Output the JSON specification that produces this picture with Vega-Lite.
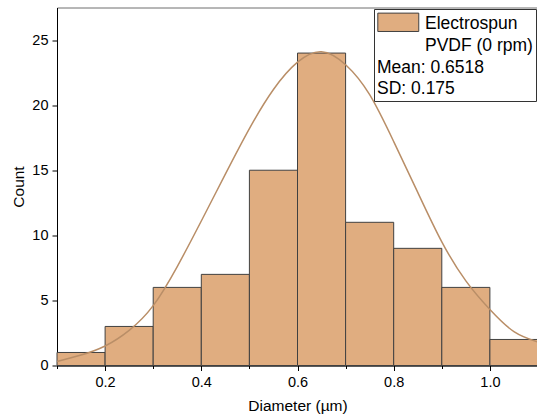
{
  "$schema": "https://vega.github.io/schema/vega-lite/v6.json",
  "width": 481,
  "height": 358,
  "autosize": {"type": "none"},
  "padding": {"left": 57, "top": 7.5, "right": 0, "bottom": 53.5},
  "background": "white",
  "config": {
    "font": "Liberation Sans",
    "view": {"stroke": "#6e6e6e", "strokeWidth": 1},
    "style": {"guide-label": {"lineHeight": 22}},
    "axis": {
      "grid": false,
      "domainColor": "#000",
      "domainWidth": 1,
      "tickColor": "#000",
      "tickWidth": 1,
      "labelColor": "#000",
      "titleColor": "#000",
      "labelFont": "Liberation Sans",
      "titleFont": "Liberation Sans",
      "labelFontSize": 14.5,
      "titleFontSize": 15.5,
      "titleFontWeight": "normal",
      "labelOverlap": false,
      "labelFlush": false
    }
  },
  "datasets": {
    "bins": [
      {"bin_start": 0.1, "bin_end": 0.2, "count": 1, "series": "Electrospun PVDF (0 rpm)"},
      {"bin_start": 0.2, "bin_end": 0.3, "count": 3, "series": "Electrospun PVDF (0 rpm)"},
      {"bin_start": 0.3, "bin_end": 0.4, "count": 6, "series": "Electrospun PVDF (0 rpm)"},
      {"bin_start": 0.4, "bin_end": 0.5, "count": 7, "series": "Electrospun PVDF (0 rpm)"},
      {"bin_start": 0.5, "bin_end": 0.6, "count": 15, "series": "Electrospun PVDF (0 rpm)"},
      {"bin_start": 0.6, "bin_end": 0.7, "count": 24, "series": "Electrospun PVDF (0 rpm)"},
      {"bin_start": 0.7, "bin_end": 0.8, "count": 11, "series": "Electrospun PVDF (0 rpm)"},
      {"bin_start": 0.8, "bin_end": 0.9, "count": 9, "series": "Electrospun PVDF (0 rpm)"},
      {"bin_start": 0.9, "bin_end": 1.0, "count": 6, "series": "Electrospun PVDF (0 rpm)"},
      {"bin_start": 1.0, "bin_end": 1.1, "count": 2, "series": "Electrospun PVDF (0 rpm)"}
    ],
    "curve": [
      {"diameter": 0.10, "fit": 0.3},
      {"diameter": 0.15, "fit": 0.8},
      {"diameter": 0.20, "fit": 1.5},
      {"diameter": 0.25, "fit": 2.7},
      {"diameter": 0.30, "fit": 4.6},
      {"diameter": 0.35, "fit": 7.6},
      {"diameter": 0.40, "fit": 11.1},
      {"diameter": 0.45, "fit": 14.7},
      {"diameter": 0.50, "fit": 18.2},
      {"diameter": 0.55, "fit": 21.2},
      {"diameter": 0.60, "fit": 23.3},
      {"diameter": 0.65, "fit": 24.1},
      {"diameter": 0.70, "fit": 23.1},
      {"diameter": 0.75, "fit": 20.8},
      {"diameter": 0.80, "fit": 17.2},
      {"diameter": 0.85, "fit": 13.3},
      {"diameter": 0.90, "fit": 9.5},
      {"diameter": 0.95, "fit": 6.5},
      {"diameter": 1.00, "fit": 4.3},
      {"diameter": 1.05, "fit": 2.6},
      {"diameter": 1.10, "fit": 1.8}
    ]
  },
  "layer": [
    {
      "data": {"name": "bins"},
      "mark": {"type": "bar", "orient": "vertical", "stroke": "#404040", "strokeWidth": 1, "opacity": 1},
      "encoding": {
        "x": {
          "field": "bin_start",
          "type": "quantitative",
          "title": "Diameter (µm)",
          "scale": {"domain": [0.1, 1.1], "nice": false, "zero": false, "padding": 0},
          "axis": {
            "values": [0.1, 0.2, 0.3, 0.4, 0.5, 0.6, 0.7, 0.8, 0.9, 1.0, 1.1],
            "labelExpr": "abs(datum.value * 5 - round(datum.value * 5)) < 0.001 ? format(datum.value, '.1f') : ''",
            "tickSize": {"condition": {"test": "abs(datum.value * 5 - round(datum.value * 5)) < 0.001", "value": 5}, "value": 3},
            "labelPadding": 4.5,
            "titlePadding": 10
          }
        },
        "x2": {"field": "bin_end"},
        "y": {
          "field": "count",
          "type": "quantitative",
          "title": "Count",
          "scale": {"domain": [0, 27.5], "nice": false, "zero": true, "padding": 0},
          "axis": {
            "values": [0, 2.5, 5, 7.5, 10, 12.5, 15, 17.5, 20, 22.5, 25],
            "labelExpr": "datum.value % 5 === 0 ? datum.label : ''",
            "tickSize": {"condition": {"test": "datum.value % 5 === 0", "value": 5}, "value": 3},
            "labelPadding": 4,
            "titlePadding": 5
          }
        },
        "y2": {"datum": 0},
        "fill": {
          "field": "series",
          "type": "nominal",
          "scale": {"range": ["#E0AD80"]},
          "legend": {
            "orient": "none",
            "legendX": 317,
            "legendY": 1.5,
            "title": ["Mean: 0.6518", "SD: 0.175"],
            "titleOrient": "bottom",
            "titleAnchor": "start",
            "titleFont": "Liberation Sans",
            "titleFontSize": 17.5,
            "titleFontWeight": "normal",
            "titleLineHeight": 20.6,
            "titleColor": "#000",
            "titlePadding": 5,
            "titleLimit": 300,
            "labelExpr": "['Electrospun', 'PVDF (0 rpm)']",
            "labelFont": "Liberation Sans",
            "labelFontSize": 17.5,
            "labelColor": "#000",
            "labelBaseline": "alphabetic",
            "labelLimit": 300,
            "labelOffset": 15,
            "symbolType": "M-1,-0.98H1.61V0.19H-1Z",
            "symbolSize": 986,
            "symbolStrokeColor": "#404040",
            "symbolStrokeWidth": 1,
            "symbolOpacity": 1,
            "padding": 3,
            "strokeColor": "#333",
            "fillColor": "white",
            "cornerRadius": 0
          }
        }
      }
    },
    {
      "data": {"name": "curve"},
      "mark": {"type": "line", "color": "#B98E67", "strokeWidth": 1.5, "interpolate": "natural"},
      "encoding": {
        "x": {"field": "diameter", "type": "quantitative", "title": "Diameter (µm)"},
        "y": {"field": "fit", "type": "quantitative", "title": "Count"}
      }
    }
  ]
}
